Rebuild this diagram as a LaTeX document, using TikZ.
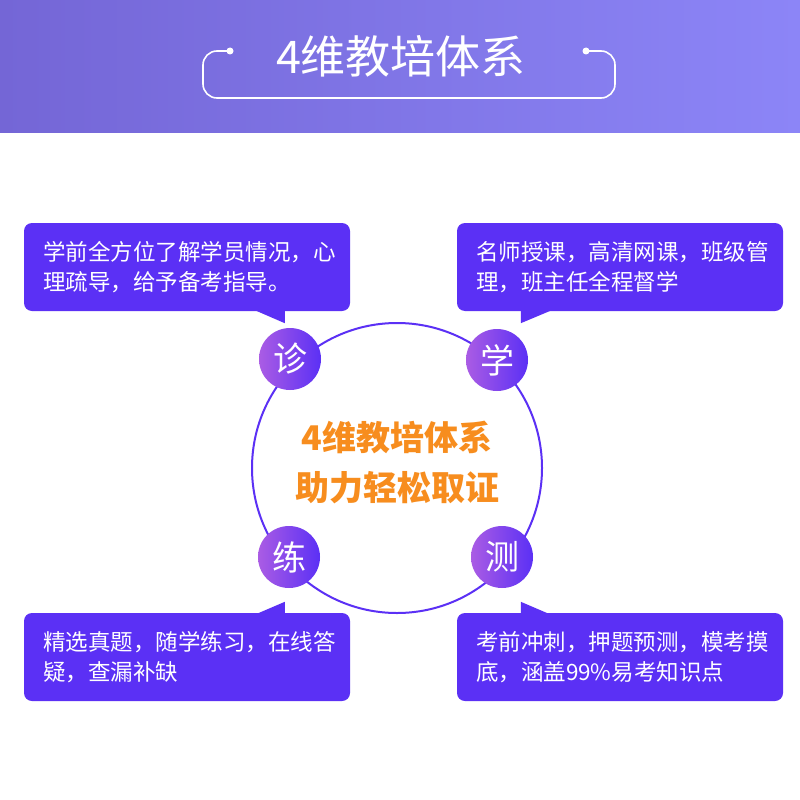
\documentclass[tikz,border=0pt]{standalone}
\usepackage{fontspec}
\setmainfont{Noto Sans CJK SC}
\usepackage{tikz}
\usetikzlibrary{calc, positioning}
\definecolor{bubbleviolet}{RGB}{91,48,245}
\definecolor{badgeleft}{RGB}{170,92,228}
\definecolor{headleft}{RGB}{116,102,214}
\definecolor{headright}{RGB}{140,133,247}
\definecolor{titleorange}{RGB}{247,141,30}
\tikzset{
  bubble/.style={
    rectangle, rounded corners=8pt, minimum width=326pt, minimum height=88pt,
    text width=288pt, align=left, fill=bubbleviolet, text=white,
    font=\fontsize{22.5}{30}\selectfont
  },
  badge/.style={
    circle, minimum size=62pt, inner sep=0pt, left color=badgeleft,
    right color=bubbleviolet, text=white, font=\fontsize{34}{34}\selectfont
  },
  tail/.style={fill=bubbleviolet},
  bracket/.style={draw=white, line width=1.6pt, rounded corners=14pt}
}

\begin{document}
\begin{tikzpicture}[x=1pt, y=-1pt]
  \useasboundingbox (0,0) rectangle (800,800);
  \fill[white] (0,0) rectangle (800,800);

  % Header
  \shade[left color=headleft, right color=headright] (0,0) rectangle (800,132);
  \draw[bracket] (230,51) -- (203,51) -- (203,98) -- (615,98) -- (615,51) -- (586,51);
  \fill[white] (230,51) circle (3.5) (586,51) circle (3.5);
  \node[text=white, font=\fontsize{45}{45}\selectfont] (title) at (401,56) {4维教培体系};

  % Circle and center text
  \node[circle, draw=bubbleviolet, line width=2pt, minimum size=290pt] (ring) at (397,468) {};
  \node[align=center, text=titleorange, font=\fontsize{34}{50}\selectfont\bfseries] (slogan)
    at (397,463) {4维教培体系\\助力轻松取证};

  % Badges
  \node[badge] (zhen) at (290,359) {诊};
  \node[badge] (xue)  at (497,360) {学};
  \node[badge] (lian) at (289,557) {练};
  \node[badge] (ce)   at (502,557) {测};

  % Bubbles
  \node[bubble] (diag) at (187,267)
    {学前全方位了解学员情况，心\\理疏导，给予备考指导。};
  \node[bubble] (study) at (620,267)
    {名师授课，高清网课，班级管\\理，班主任全程督学};
  \node[bubble] (drill) at (187,657)
    {精选真题，随学练习，在线答\\疑，查漏补缺};
  \node[bubble] (exam) at (620,657)
    {考前冲刺，押题预测，模考摸\\底，涵盖99\%易考知识点};

  % Tails
  \fill[tail] ($(diag.south west)+(231,-1)$) -- ($(diag.south west)+(261,12)$) -- ($(diag.south west)+(261,-1)$) -- cycle;
  \fill[tail] ($(study.south west)+(95,-1)$) -- ($(study.south west)+(64,12)$) -- ($(study.south west)+(64,-1)$) -- cycle;
  \fill[tail] ($(drill.north west)+(233,1)$) -- ($(drill.north west)+(261,-11)$) -- ($(drill.north west)+(261,1)$) -- cycle;
  \fill[tail] ($(exam.north west)+(92,1)$) -- ($(exam.north west)+(64,-11)$) -- ($(exam.north west)+(64,1)$) -- cycle;

\end{tikzpicture}
\end{document}
